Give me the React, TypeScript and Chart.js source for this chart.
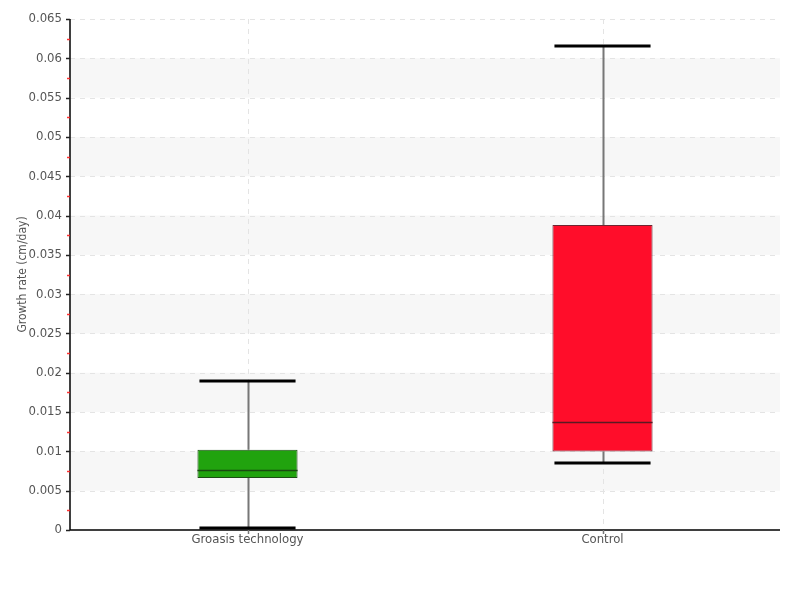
import { useEffect, useRef } from "react";
import { Chart, registerables } from "chart.js";

Chart.register(...registerables);

const categories = ["Groasis technology", "Control"];
const whiskerLow = [0.0002, 0.0085];
const q1 = [0.0066, 0.01];
const median = [0.0076, 0.0137];
const q3 = [0.0102, 0.0388];
const whiskerHigh = [0.019, 0.0616];
const boxColors = ["#21a30e", "#ff0d2a"];
const boxBorderColors = ["#1d4d15", "#6e2530"];
const medianColors = ["#1b4a12", "#5a1a22"];
const yMin = 0;
const yMax = 0.065;
const yStep = 0.005;

const FONT = "'DejaVu Sans Condensed', 'Liberation Sans Narrow', 'Roboto', sans-serif";

const boxPlugin = {
  id: "boxDecor",
  beforeDatasetsDraw(chart: any) {
    const { ctx, chartArea, scales } = chart;
    const y = scales.y;
    const x = scales.x;
    ctx.save();
    const nSteps = Math.round((yMax - yMin) / yStep);
    for (let k = 1; k < nSteps; k += 2) {
      const top = y.getPixelForValue(yMin + (k + 1) * yStep);
      const bot = y.getPixelForValue(yMin + k * yStep);
      ctx.fillStyle = "#f7f7f7";
      ctx.fillRect(chartArea.left, top, chartArea.right - chartArea.left, bot - top);
    }
    ctx.strokeStyle = "#e4e4e4";
    ctx.lineWidth = 1;
    ctx.setLineDash([5, 5]);
    for (let k = 1; k <= nSteps; k++) {
      const py = Math.round(y.getPixelForValue(yMin + k * yStep)) + 0.5;
      ctx.beginPath();
      ctx.moveTo(chartArea.left, py);
      ctx.lineTo(chartArea.right, py);
      ctx.stroke();
    }
    categories.forEach((_, i) => {
      const px = Math.round(x.getPixelForValue(i)) + 0.5;
      ctx.beginPath();
      ctx.moveTo(px, chartArea.top);
      ctx.lineTo(px, chartArea.bottom);
      ctx.stroke();
    });
    ctx.setLineDash([]);
    const meta = chart.getDatasetMeta(0);
    categories.forEach((_, i) => {
      const bar = meta.data[i];
      const px = Math.round(bar.x) + 0.5;
      ctx.strokeStyle = "#777777";
      ctx.lineWidth = 2;
      ctx.beginPath();
      ctx.moveTo(px, y.getPixelForValue(q3[i]));
      ctx.lineTo(px, y.getPixelForValue(whiskerHigh[i]));
      ctx.moveTo(px, y.getPixelForValue(q1[i]));
      ctx.lineTo(px, y.getPixelForValue(whiskerLow[i]));
      ctx.stroke();
    });
    ctx.restore();
  },
  afterDatasetsDraw(chart: any) {
    const { ctx, chartArea, scales } = chart;
    const y = scales.y;
    const meta = chart.getDatasetMeta(0);
    ctx.save();
    categories.forEach((_, i) => {
      const bar = meta.data[i];
      const half = bar.width / 2;
      ctx.strokeStyle = "#000000";
      ctx.lineWidth = 3;
      const capHalf = half * 0.96;
      [whiskerHigh[i], whiskerLow[i]].forEach((v) => {
        const py = Math.round(y.getPixelForValue(v));
        ctx.beginPath();
        ctx.moveTo(bar.x - capHalf, py);
        ctx.lineTo(bar.x + capHalf, py);
        ctx.stroke();
      });
      ctx.strokeStyle = medianColors[i];
      ctx.lineWidth = 1.5;
      const pm = Math.round(y.getPixelForValue(median[i])) + 0.5;
      ctx.beginPath();
      ctx.moveTo(bar.x - half, pm);
      ctx.lineTo(bar.x + half, pm);
      ctx.stroke();
    });
    ctx.strokeStyle = "#000";
    ctx.lineWidth = 1.5;
    ctx.beginPath();
    ctx.moveTo(chartArea.left, chartArea.top);
    ctx.lineTo(chartArea.left, chartArea.bottom);
    ctx.lineTo(chartArea.right, chartArea.bottom);
    ctx.stroke();
    const nSteps = Math.round((yMax - yMin) / yStep);
    ctx.lineWidth = 1.5;
    ctx.strokeStyle = "#222";
    for (let k = 0; k <= nSteps; k++) {
      const py = Math.round(y.getPixelForValue(yMin + k * yStep)) + 0.5;
      ctx.beginPath();
      ctx.moveTo(chartArea.left - 4, py);
      ctx.lineTo(chartArea.left, py);
      ctx.stroke();
    }
    ctx.strokeStyle = "rgba(255,30,30,0.9)";
    for (let k = 0; k < nSteps; k++) {
      const py = Math.round(y.getPixelForValue(yMin + (k + 0.5) * yStep)) + 0.5;
      ctx.beginPath();
      ctx.moveTo(chartArea.left - 3, py);
      ctx.lineTo(chartArea.left, py);
      ctx.stroke();
    }
    const x = scales.x;
    ctx.strokeStyle = "#777";
    categories.forEach((_, i) => {
      const px = Math.round(x.getPixelForValue(i)) + 0.5;
      ctx.beginPath();
      ctx.moveTo(px, chartArea.bottom);
      ctx.lineTo(px, chartArea.bottom + 4);
      ctx.stroke();
    });
    ctx.restore();
  },
};

export default function App() {
  const ref = useRef<HTMLCanvasElement>(null);
  useEffect(() => {
    if (!ref.current) return;
    const chart = new Chart(ref.current, {
      type: "bar",
      data: {
        labels: categories,
        datasets: [
          {
            label: "Growth rate",
            data: categories.map((_, i) => [q1[i], q3[i]]) as any,
            backgroundColor: boxColors,
            borderColor: boxBorderColors,
            borderWidth: 1,
            borderSkipped: false,
            barPercentage: 0.282,
            categoryPercentage: 1,
          },
        ],
      },
      options: {
        animation: false,
        responsive: false,
        maintainAspectRatio: false,
        layout: { padding: { top: 19, right: 20, left: 0, bottom: 0 } },
        plugins: { legend: { display: false }, tooltip: { enabled: false } },
        scales: {
          x: {
            grid: { display: false, drawTicks: false, offset: false },
            border: { display: false },
            ticks: { color: "#555", font: { family: FONT, size: 13 }, padding: 2 },
            afterFit: (s: any) => {
              s.height = 70;
            },
          },
          y: {
            min: yMin,
            max: yMax,
            grid: { display: false, drawTicks: false },
            border: { display: false },
            ticks: {
              stepSize: yStep,
              color: "#555",
              font: { family: FONT, size: 13 },
              padding: 8,
              callback: (v: any) => String(Number(Number(v).toFixed(4))),
            },
            title: {
              display: true,
              text: "Growth rate (cm/day)",
              color: "#555",
              font: { family: FONT, size: 12 },
              padding: { top: 16, bottom: 0 },
            },
            afterFit: (s: any) => {
              s.width = 70;
            },
          },
        },
      },
      plugins: [boxPlugin],
    });
    return () => chart.destroy();
  }, []);
  return (
    <div style={{ position: "fixed", left: 0, top: 0, width: 800, height: 600, background: "#fff" }}>
      <canvas ref={ref} width={800} height={600} />
    </div>
  );
}
